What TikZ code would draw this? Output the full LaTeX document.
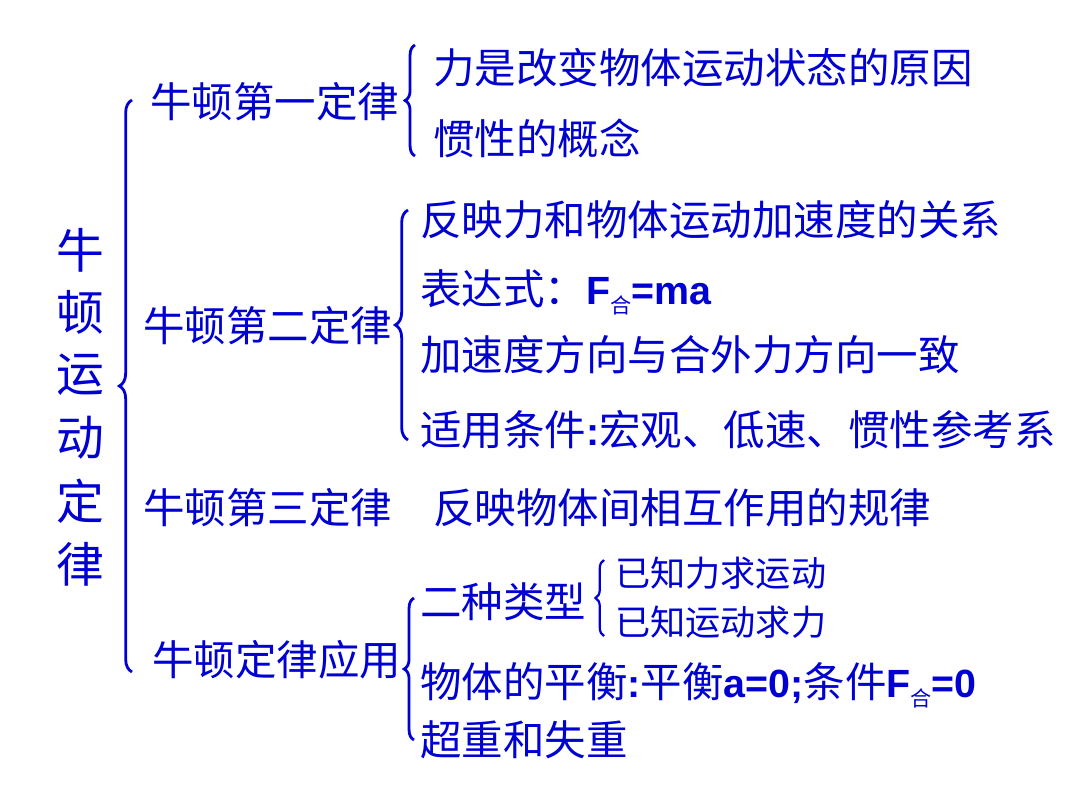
\documentclass[tikz,border=0pt]{standalone}
\usepackage{fontspec}
\setmainfont{Noto Sans CJK SC}
\newfontfamily\lat{Liberation Sans}
\usetikzlibrary{decorations.pathreplacing}
\definecolor{tb}{RGB}{0,0,210}
\newcommand{\LB}[1]{{\lat\bfseries\fontsize{28}{30}\selectfont #1}}
\newcommand{\Sub}{\raisebox{-0.4ex}{\fontsize{15}{17}\selectfont 合}}
\tikzset{
 t/.style={anchor=west,inner sep=0pt,text=tb,font=\fontsize{29.5}{34}\selectfont},
 s/.style={anchor=west,inner sep=0pt,text=tb,font=\fontsize{25}{29}\selectfont},
 big/.style={inner sep=0pt,text=tb,font=\fontsize{34}{38}\selectfont},
 br/.style={draw=tb,line width=2pt,decorate,decoration={brace,amplitude=9pt}},
 sbr/.style={draw=tb,line width=1.6pt,decorate,decoration={brace,amplitude=6pt}}
}
\begin{document}
\begin{tikzpicture}[x=0.025cm,y=-0.025cm]
\useasboundingbox[fill=white] (0,0) rectangle (1080,810);
\foreach \c/\yy [count=\i] in {牛/250,顿/312,运/375,动/438,定/501,律/564}
  \node[big] (m\i) at (80,\yy) {\c};
\coordinate (B0a) at (132,672); \coordinate (B0b) at (132,100);
\draw[br] (B0a) -- (B0b);
% law 1
\node[t] (l1) at (150,102) {牛顿第一定律};
\coordinate (B1a) at (415,156); \coordinate (B1b) at (415,45);
\draw[br,decoration={amplitude=7pt}] (B1a) -- (B1b);
\node[t] (a1) at (433,68) {力是改变物体运动状态的原因};
\node[t] (a2) at (433,138) {惯性的概念};
% law 2
\node[t] (l2) at (143,326) {牛顿第二定律};
\coordinate (B2a) at (408,440); \coordinate (B2b) at (408,210);
\draw[br] (B2a) -- (B2b);
\node[t] (b1) at (420,220) {反映力和物体运动加速度的关系};
\node[t] (b2) at (420,292) {表达式：\LB{F}\Sub\LB{=ma}};
\node[t] (b3) at (420,355) {加速度方向与合外力方向一致};
\node[t] (b4) at (420,430) {适用条件\LB{:}宏观、低速、惯性参考系};
% law 3
\node[t] (l3) at (143,508) {牛顿第三定律};
\node[t] (c1) at (433,508) {反映物体间相互作用的规律};
% application
\node[t] (l4) at (152,660) {牛顿定律应用};
\coordinate (B4a) at (414,740); \coordinate (B4b) at (414,598);
\draw[br,decoration={amplitude=7pt}] (B4a) -- (B4b);
\node[t] (d1) at (420,602) {二种类型};
\coordinate (B5a) at (604,636); \coordinate (B5b) at (604,560);
\draw[sbr] (B5a) -- (B5b);
\node[s] (e1) at (615,573) {已知力求运动};
\node[s] (e2) at (615,622) {已知运动求力};
\node[t] (d2) at (420,685) {物体的平衡\LB{:}平衡\LB{a=0;}条件\LB{F}\Sub\LB{=0}};
\node[t] (d3) at (420,740) {超重和失重};
\end{tikzpicture}
\end{document}
